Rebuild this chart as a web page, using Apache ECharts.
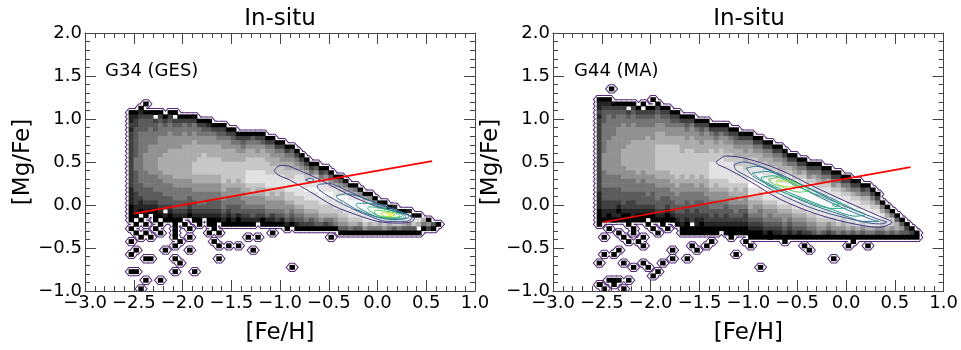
<!DOCTYPE html>
<html>
<head>
<meta charset="utf-8">
<script src="https://cdn.jsdelivr.net/npm/echarts@6/dist/echarts.min.js"></script>
<style>
  html, body { margin: 0; padding: 0; background: #fff; }
  #chart { width: 961px; height: 350px; }
</style>
</head>
<body>
<div id="chart"></div>
<script>
// axis ticks
const xTicks = [-3.0, -2.5, -2.0, -1.5, -1.0, -0.5, 0.0, 0.5, 1.0];
const xTickLabels = ['\u22123.0', '\u22122.5', '\u22122.0', '\u22121.5', '\u22121.0', '\u22120.5', '0.0', '0.5', '1.0'];
const yTicks = [-1.0, -0.5, 0.0, 0.5, 1.0, 1.5, 2.0];
const yTickLabels = ['\u22121.0', '\u22120.5', '0.0', '0.5', '1.0', '1.5', '2.0'];

// histogram bins: 0.05 dex, columns start at [Fe/H] = -2.55, rows count down from [Mg/Fe] = 1.25
// each column string: one char per row from its top row, 0 = black ... 9 = white, '.' = empty bin
const g34Top = [3, 3, 2, 1, 3, 3, 3, 3, 3, 3, 4, 4, 4, 4, 5, 5, 5, 6, 6, 6, 7, 7, 8, 8, 8, 8, 8, 8, 9, 9,
  10, 10, 11, 11, 12, 13, 14, 15, 15, 16, 16, 17, 18, 18, 19, 20, 20, 21, 22, 22, 23, 24, 24, 25, 25, 26, 26, 26, 27, 27,
  28, 28, 29, 29];
const g34Cols = [
  '0112122222222222221111000', '0122333333344433333222110', '0123334444444444443332110', '0.0233344444555544443332110',
  '023344445555555444333210', '0.23344455555554444332100', '0234445555566655444333210', '.0234455556666655444332.10',
  '0234455556666665544433210', '0.234455566666665544433210', '0234455566666665544433210', '024455566666666554443321.',
  '023445566666666554433210', '0244556666677766554433210', '024455666777766554443210', '02345566777776655444321.',
  '013455666777766554433210', '024556667777665544332100', '02345666777766554433210', '023455666777776655443210',
  '02455666777766554432100', '02345666777776554433210', '0245566777766554433100', '0234566777776655443210',
  '0245667778887665543210', '0345667778887765543310', '024556777888766554321.', '0235667778887665543200',
  '024566777888776554310', '024556677888766554210', '02456677888776554320', '02455677888766554310',
  '02456677888776554310', '0345667788877654320', '0245678898877654310', '024578898877654320',
  '02467889887765420', '0247889887765320', '0357889887765430', '024788988776530',
  '035788988776420', '03578988776430', '0468898876540', '03578988776530',
  '0468998876530', '057899887640', '046899887630', '05899887530',
  '0689988750', '0589988640', '059988740', '07998640',
  '06998750', '0998640', '1998730', '099740',
  '098630', '198530', '08730', '086.0',
  '640', '052', '30', '0'
];
const g34Speckles = [
  [-2.525, -0.175], [-2.475, -0.225], [-2.525, -0.275], [-2.425, -0.175], [-2.375, -0.225], [-2.475, -0.325],
  [-2.425, -0.375], [-2.375, -0.325], [-2.325, -0.375], [-2.275, -0.275], [-2.225, -0.225], [-2.275, -0.175],
  [-2.225, -0.325], [-2.525, -0.425], [-2.125, -0.175], [-2.075, -0.225], [-2.075, -0.275], [-2.075, -0.325],
  [-2.075, -0.375], [-2.025, -0.425], [-2.075, -0.475], [-1.975, -0.225], [-1.925, -0.275], [-1.875, -0.175],
  [-1.825, -0.225], [-1.925, -0.375], [-1.725, -0.225], [-1.675, -0.275], [-1.625, -0.325], [-1.725, -0.325],
  [-1.675, -0.425], [-1.625, -0.475], [-2.475, -0.525], [-2.525, -0.575], [-2.375, -0.625], [-2.325, -0.625],
  [-2.175, -0.525], [-2.075, -0.625], [-2.025, -0.675], [-1.925, -0.525], [-1.875, -0.775], [-2.075, -0.775],
  [-2.525, -0.775], [-2.475, -0.775], [-2.375, -0.875], [-2.225, -0.875], [-2.425, -0.975], [-1.625, -0.625],
  [-1.525, -0.475], [-1.425, -0.475], [-1.325, -0.375], [-1.275, -0.525], [-1.225, -0.375], [-1.075, -0.325],
  [-0.875, -0.725], [-0.475, -0.375]
];

const g44Top = [0, 0, 0, 1, 1, 1, 1, 1, 2, 1, 2, 0, 1, 2, 2, 3, 3, 4, 4, 4, 5, 5, 5, 6, 6, 6, 6, 7, 7, 8,
  8, 8, 9, 9, 10, 10, 11, 11, 12, 13, 13, 14, 14, 15, 15, 15, 16, 16, 17, 17, 18, 18, 19, 19, 20, 20, 21, 22, 24, 25,
  26, 27, 28, 29, 30, 31];
const g44Cols = [
  '01121222222222222222221111000', '01233344444445555444433322110', '01234444445555555544433322100',
  '0233444455555555544433322110', '0234445555555555544433321010', '0234455555566665554443332100',
  '0.23445555666666554443322100', '0234455556666666554443322110', '023445556666666655443332100',
  '0.23445556666666554443332100', '02344556666666665544433210.', '0.023445556666666655443332100',
  '0234455666777777665544433210', '023455666777777665544333210', '023445566777777665544332100',
  '02345566777777766554433210', '023455667777777766554433210', '0245566667777766554443322100',
  '0234556677777776554433221000', '0245566677777766554443322.00', '024556667777776654433221100',
  '023455667777766554433321000', '024556667777776655443322100', '02456677788887765544332100',
  '02345667788887665544322100', '0245667788888776554433210.', '02355667788887765543322100',
  '0245667788888776554332100', '0234566778888766554432100', '024566778888776654332100',
  '024556677888766554322100', '0245667788999887665432100', '024567788999887655432100',
  '024566788999877654432100', '02456778899988765543210', '02456678889988765443200',
  '0245678899988765543210', '0245667889998876543210', '024567889998876554320',
  '02467889998876543210', '02456788999887654320', '0245788999887654310',
  '0246788999887654320', '024578899988765420', '024678899988765430',
  '024567889998876540', '02457889998876530', '02467889998875420',
  '0245788999876530', '0246788999887540', '024678999876530',
  '024578899987640', '02467899987530', '02457889998640',
  '0246789997530', '0346789998640', '024678998640',
  '02478998530', '046887530', '04688640',
  '0477530', '036640', '03530', '0230', '020', '00'
];
const g44Speckles = [
  [-2.4, 1.35],
  [-2.525, -0.225], [-2.425, -0.275], [-2.475, -0.375], [-2.375, -0.175], [-2.325, -0.325], [-2.275, -0.375],
  [-2.225, -0.425], [-2.225, -0.225], [-2.175, -0.275], [-2.175, -0.325], [-2.125, -0.425], [-2.075, -0.475],
  [-2.075, -0.375], [-2.025, -0.225], [-1.975, -0.275], [-1.925, -0.325], [-1.875, -0.225], [-1.825, -0.275],
  [-1.775, -0.175], [-2.475, -0.575], [-2.375, -0.575], [-2.325, -0.525], [-2.275, -0.675], [-2.525, -0.675],
  [-2.175, -0.725], [-2.075, -0.675], [-2.025, -0.725], [-1.925, -0.775], [-1.875, -0.675], [-1.775, -0.625],
  [-1.775, -0.525], [-1.975, -0.825], [-2.425, -0.875], [-2.375, -0.875], [-2.325, -0.875], [-2.375, -0.925],
  [-2.275, -0.975], [-2.225, -0.875], [-2.475, -0.975], [-2.525, -0.925], [-1.575, -0.475], [-1.525, -0.525],
  [-1.425, -0.475], [-1.625, -0.625], [-1.375, -0.425], [-1.175, -0.375], [-1.125, -0.575], [-1.025, -0.425],
  [-0.975, -0.475], [-0.875, -0.725], [-0.775, -0.375], [-0.625, -0.425], [-0.425, -0.475], [-0.375, -0.525],
  [-0.125, -0.625], [0.025, -0.475], [0.225, -0.475], [0.075, -0.425]
];

// density contours, outermost first
const contourColors = ['#46327e', '#3b528b', '#2c728e', '#21918c', '#28ae80', '#5ec962', '#addc30', '#fde725'];
const g34Contours = [
  [[-1.06, 0.40], [-1.02, 0.45], [-0.95, 0.46], [-0.8, 0.40], [-0.6, 0.30], [-0.4, 0.18], [-0.2, 0.07], [0.0, -0.02],
   [0.2, -0.08], [0.33, -0.12], [0.38, -0.16], [0.33, -0.20], [0.2, -0.21], [0.0, -0.19], [-0.2, -0.12], [-0.45, -0.01],
   [-0.7, 0.16], [-0.9, 0.29], [-1.02, 0.35], [-1.06, 0.40]],
  [[-0.6, 0.24], [-0.5, 0.25], [-0.3, 0.16], [-0.1, 0.06], [0.1, -0.03], [0.3, -0.11], [0.35, -0.15], [0.3, -0.19],
   [0.1, -0.19], [-0.1, -0.12], [-0.3, -0.02], [-0.5, 0.10], [-0.6, 0.18], [-0.62, 0.22], [-0.6, 0.24]],
  [[-0.42, 0.11], [-0.32, 0.13], [-0.05, 0.04], [0.2, -0.06], [0.31, -0.11], [0.32, -0.14], [0.2, -0.17], [0.03, -0.15],
   [-0.2, -0.06], [-0.35, 0.04], [-0.42, 0.09], [-0.42, 0.11]],
  [[-0.21, 0.02], [-0.1, 0.02], [0.1, -0.05], [0.27, -0.11], [0.29, -0.14], [0.2, -0.16], [0.0, -0.14], [-0.15, -0.06],
   [-0.22, 0.0], [-0.21, 0.02]],
  [[-0.09, -0.02], [0.0, -0.03], [0.15, -0.07], [0.26, -0.12], [0.2, -0.15], [0.05, -0.14], [-0.05, -0.09], [-0.1, -0.04],
   [-0.09, -0.02]],
  [[-0.03, -0.06], [0.08, -0.07], [0.2, -0.10], [0.23, -0.13], [0.15, -0.145], [0.03, -0.13], [-0.03, -0.09], [-0.03, -0.06]],
  [[0.04, -0.09], [0.12, -0.09], [0.18, -0.115], [0.12, -0.135], [0.05, -0.12], [0.04, -0.09]],
  [[0.1, -0.10], [0.14, -0.10], [0.15, -0.115], [0.11, -0.12], [0.1, -0.10]]
];
const g34ContourLevels = [0, 1, 2, 3, 4, 5, 6, 7];
const g34Islands = [[[-0.74, 0.29], [-0.69, 0.31], [-0.65, 0.29], [-0.69, 0.27], [-0.74, 0.29]]];
const g34IslandLevels = [1];

const g44Contours = [
  [[-1.33, 0.50], [-1.23, 0.57], [-1.02, 0.54], [-0.68, 0.41], [-0.34, 0.22], [0.0, 0.04], [0.34, -0.13], [0.47, -0.20],
   [0.34, -0.26], [0.0, -0.20], [-0.34, -0.09], [-0.68, 0.07], [-1.02, 0.30], [-1.23, 0.43], [-1.31, 0.47], [-1.33, 0.50]],
  [[-1.145, 0.47], [-1.06, 0.50], [-0.68, 0.36], [-0.34, 0.17], [0.0, -0.02], [0.34, -0.17], [0.42, -0.20], [0.34, -0.22],
   [0.0, -0.15], [-0.34, -0.04], [-0.68, 0.13], [-1.02, 0.34], [-1.13, 0.41], [-1.145, 0.47]],
  [[-1.02, 0.43], [-0.92, 0.45], [-0.68, 0.34], [-0.34, 0.13], [0.0, -0.05], [0.27, -0.17], [0.34, -0.19], [0.17, -0.19],
   [0.0, -0.13], [-0.34, 0.0], [-0.68, 0.17], [-0.96, 0.34], [-1.02, 0.43]],
  [[-0.96, 0.37], [-0.82, 0.39], [-0.51, 0.26], [-0.17, 0.09], [0.1, -0.06], [0.2, -0.11], [0.1, -0.13], [-0.17, -0.04],
   [-0.51, 0.11], [-0.85, 0.28], [-0.96, 0.37]],
  [[-0.87, 0.32], [-0.75, 0.34], [-0.51, 0.22], [-0.17, 0.06], [-0.04, 0.0], [0.0, -0.04], [-0.14, -0.04], [-0.51, 0.09],
   [-0.79, 0.22], [-0.85, 0.28], [-0.87, 0.32]],
  [[-0.79, 0.30], [-0.68, 0.32], [-0.48, 0.24], [-0.38, 0.17], [-0.48, 0.15], [-0.68, 0.22], [-0.77, 0.26], [-0.79, 0.30]],
  [[-0.72, 0.28], [-0.58, 0.28], [-0.48, 0.21], [-0.58, 0.21], [-0.70, 0.24], [-0.72, 0.28]]
];
const g44ContourLevels = [0, 1, 2, 3, 4, 5, 6];
const g44Islands = [[[-0.14, 0.0], [-0.1, 0.01], [-0.07, -0.005], [-0.1, -0.02], [-0.14, 0.0]]];
const g44IslandLevels = [4];

// fitted lines
const g34Fit = [[-2.50, -0.10], [0.56, 0.51]];
const g44Fit = [[-2.49, -0.20], [0.66, 0.44]];

const BIN = 0.05;
const X0 = -2.55;
const Y0 = 1.25;
const OUTLINE = '#54287a';
const FONT = 'DejaVu Sans';

function buildCells(tops, cols, speckles) {
  const out = [];
  cols.forEach((s, i) => {
    for (let k = 0; k < s.length; k++) {
      if (s[k] === '.') continue;
      const j = tops[i] + k;
      out.push([X0 + BIN * (i + 0.5), Y0 - BIN * (j + 0.5), +s[k]]);
    }
  });
  speckles.forEach(p => out.push([p[0], p[1], 0]));
  return out;
}

function hexPoints(api) {
  const c = api.coord([api.value(0), api.value(1)]);
  const s = api.size([BIN, BIN]);
  const w = s[0], h = s[1];
  return [
    [c[0] - 1.1 * w, c[1]], [c[0] - 0.45 * w, c[1] - 0.85 * h], [c[0] + 0.45 * w, c[1] - 0.85 * h],
    [c[0] + 1.1 * w, c[1]], [c[0] + 0.45 * w, c[1] + 0.85 * h], [c[0] - 0.45 * w, c[1] + 0.85 * h]
  ];
}

function outlineItem(params, api) {
  return { type: 'polygon', shape: { points: hexPoints(api) }, style: { fill: OUTLINE, stroke: OUTLINE, lineWidth: 2 } };
}
function maskItem(params, api) {
  return { type: 'polygon', shape: { points: hexPoints(api) }, style: { fill: '#fff' } };
}
function cellItem(params, api) {
  const c = api.coord([api.value(0), api.value(1)]);
  const s = api.size([BIN, BIN]);
  const v = api.value(2);
  const g = v > 0 ? v * 27 + 10 : 0;
  return {
    type: 'rect',
    shape: { x: c[0] - s[0] / 2 - 0.3, y: c[1] - s[1] / 2 - 0.3, width: s[0] + 0.6, height: s[1] + 0.6 },
    style: { fill: 'rgb(' + g + ',' + g + ',' + g + ')' }
  };
}

const fmtX = v => xTickLabels[xTicks.findIndex(t => Math.abs(t - v) < 1e-6)];
const fmtY = v => yTickLabels[yTicks.findIndex(t => Math.abs(t - v) < 1e-6)];

const tickStyle = { color: '#444', width: 1 };
function xAxes(gi) {
  const base = {
    type: 'value', gridIndex: gi, min: xTicks[0], max: xTicks[xTicks.length - 1], interval: 0.5, z: 10,
    axisLine: { show: true, onZero: false, lineStyle: { color: '#444', width: 1 } },
    axisTick: { show: true, inside: true, length: 11, lineStyle: tickStyle },
    minorTick: { show: true, splitNumber: 5, length: 5, lineStyle: tickStyle },
    splitLine: { show: false }, minorSplitLine: { show: false }
  };
  return [
    Object.assign({}, base, {
      position: 'bottom',
      axisLabel: { formatter: fmtX, fontSize: 18, fontFamily: FONT, color: '#000', margin: 3 },
      name: '[Fe/H]', nameLocation: 'middle', nameGap: 31,
      nameTextStyle: { fontSize: 23, fontFamily: FONT, color: '#000' }
    }),
    Object.assign({}, base, { position: 'top', axisLabel: { show: false } })
  ];
}
function yAxes(gi) {
  const base = {
    type: 'value', gridIndex: gi, min: yTicks[0], max: yTicks[yTicks.length - 1], interval: 0.5, z: 10,
    axisLine: { show: true, onZero: false, lineStyle: { color: '#444', width: 1 } },
    axisTick: { show: true, inside: true, length: 11, lineStyle: tickStyle },
    minorTick: { show: true, splitNumber: 5, length: 5, lineStyle: tickStyle },
    splitLine: { show: false }, minorSplitLine: { show: false }
  };
  return [
    Object.assign({}, base, {
      position: 'left',
      axisLabel: { formatter: fmtY, fontSize: 18, fontFamily: FONT, color: '#000', margin: 3 },
      name: '[Mg/Fe]', nameLocation: 'middle', nameGap: 50,
      nameTextStyle: { fontSize: 23, fontFamily: FONT, color: '#000' }
    }),
    Object.assign({}, base, { position: 'right', axisLabel: { show: false } })
  ];
}

function panelSeries(axisIdx, cells, contours, levels, islands, islandLevels, fit) {
  const ax = { xAxisIndex: axisIdx, yAxisIndex: axisIdx };
  const list = [
    Object.assign({ type: 'custom', renderItem: outlineItem, data: cells, clip: true, silent: true }, ax),
    Object.assign({ type: 'custom', renderItem: maskItem, data: cells, clip: true, silent: true }, ax),
    Object.assign({ type: 'custom', renderItem: cellItem, data: cells, clip: true, silent: true }, ax)
  ];
  contours.concat(islands).forEach((pts, k) => {
    const lvl = k < contours.length ? levels[k] : islandLevels[k - contours.length];
    list.push(Object.assign({
      type: 'line', data: pts, symbol: 'none', smooth: 0.3, silent: true,
      lineStyle: { color: contourColors[lvl], width: 1 }
    }, ax));
  });
  list.push(Object.assign({
    type: 'line', data: fit, symbol: 'none', silent: true,
    lineStyle: { color: '#ff0000', width: 1.6 }
  }, ax));
  return list;
}

const chart = echarts.init(document.getElementById('chart'), null, { renderer: 'canvas' });
const xa0 = xAxes(0), xa1 = xAxes(1), ya0 = yAxes(0), ya1 = yAxes(1);
chart.setOption({
  animation: false,
  backgroundColor: '#fff',
  grid: [
    { left: 85, top: 33, width: 390, height: 268 },
    { left: 553, top: 33, width: 392, height: 268 }
  ],
  xAxis: [xa0[0], xa0[1], xa1[0], xa1[1]],
  yAxis: [ya0[0], ya0[1], ya1[0], ya1[1]],
  graphic: [
    { type: 'text', x: 280, y: 19, style: { text: 'In-situ', fontSize: 23, fontFamily: FONT, fill: '#000', textAlign: 'center', textVerticalAlign: 'middle' } },
    { type: 'text', x: 749, y: 19, style: { text: 'In-situ', fontSize: 23, fontFamily: FONT, fill: '#000', textAlign: 'center', textVerticalAlign: 'middle' } },
    { type: 'text', x: 105, y: 71, style: { text: 'G34 (GES)', fontSize: 18, fontFamily: FONT, fill: '#000', textAlign: 'left', textVerticalAlign: 'middle' } },
    { type: 'text', x: 574, y: 71, style: { text: 'G44 (MA)', fontSize: 18, fontFamily: FONT, fill: '#000', textAlign: 'left', textVerticalAlign: 'middle' } }
  ],
  series: panelSeries(0, buildCells(g34Top, g34Cols, g34Speckles), g34Contours, g34ContourLevels, g34Islands, g34IslandLevels, g34Fit)
    .concat(panelSeries(2, buildCells(g44Top, g44Cols, g44Speckles), g44Contours, g44ContourLevels, g44Islands, g44IslandLevels, g44Fit))
});
</script>
</body>
</html>
